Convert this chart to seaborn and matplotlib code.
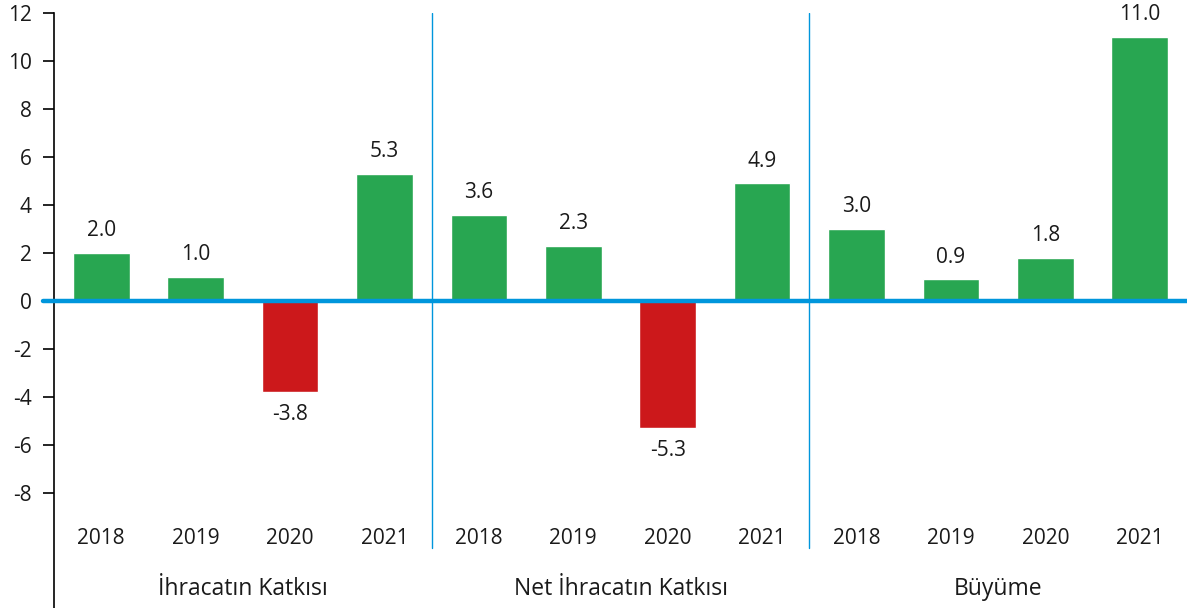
import pandas as pd
import numpy as np
import matplotlib.pyplot as plt
import seaborn as sns

# Veriler
gruplar = ['İhracatın Katkısı', 'Net İhracatın Katkısı', 'Büyüme']
yillar = ['2018', '2019', '2020', '2021']
ihracat = [2.0, 1.0, -3.8, 5.3]
net_ihracat = [3.6, 2.3, -5.3, 4.9]
buyume = [3.0, 0.9, 1.8, 11.0]

degerler = ihracat + net_ihracat + buyume
df = pd.DataFrame({
    'grup': np.repeat(gruplar, 4),
    'yil': yillar * 3,
    'deger': degerler,
})
df['anahtar'] = df['grup'] + ' ' + df['yil']
df['isaret'] = np.where(df['deger'] >= 0, 'pozitif', 'negatif')

sns.set_style("white")
plt.rcParams['font.family'] = ['Open Sans', 'DejaVu Sans']
plt.rcParams['axes.unicode_minus'] = False

fig = plt.figure(figsize=(11.87, 6.08), dpi=100)
ax = fig.add_axes([54 / 1187, 0, 1 - 54 / 1187, 1 - 13 / 608])

sns.barplot(data=df, x='anahtar', y='deger', hue='isaret', order=list(df['anahtar']),
            palette={'pozitif': '#28a651', 'negatif': '#cc181b'}, width=0.6,
            dodge=False, legend=False, saturation=1, ax=ax)

ax.set_xlim(-0.5, len(df) - 0.5)
ax.set_ylim(-12.8, 12)
ax.set_yticks(np.arange(-8, 13, 2))
ax.tick_params(axis='y', left=True, direction='out', length=8, width=1.2,
               color='black', labelsize=15, pad=8, labelcolor='#1a1a1a')
ax.set_xticks([])
ax.set_xlabel('')
ax.set_ylabel('')
for s in ['top', 'right', 'bottom']:
    ax.spines[s].set_visible(False)
ax.spines['left'].set_color('black')
ax.spines['left'].set_linewidth(1.2)

# Sıfır çizgisi
ax.axhline(0, color='#0096dc', linewidth=3.2, xmin=-11 / 1133, clip_on=False, zorder=5)

# Değer etiketleri
for i, v in enumerate(df['deger']):
    ofs = 16 if v >= 0 else -16
    ax.annotate(f'{v:.1f}', (i, v), xytext=(0, ofs), textcoords='offset points',
                ha='center', va='center', fontsize=15, color='#1a1a1a')

# Yıl ve grup etiketleri
for i, y in enumerate(df['yil']):
    ax.text(i, -9.9, y, ha='center', va='center', fontsize=15, color='#1a1a1a')
for g, ad in enumerate(gruplar):
    ax.text(g * 4 + 1.5, -12.0, ad, ha='center', va='center', fontsize=16.5, color='#1a1a1a')

# Grup ayırıcı çizgiler
for g in range(1, len(gruplar)):
    ax.plot([g * 4 - 0.5] * 2, [-10.3, 12], color='#0096dc', linewidth=1)

fig.savefig('out.png', dpi=100)
